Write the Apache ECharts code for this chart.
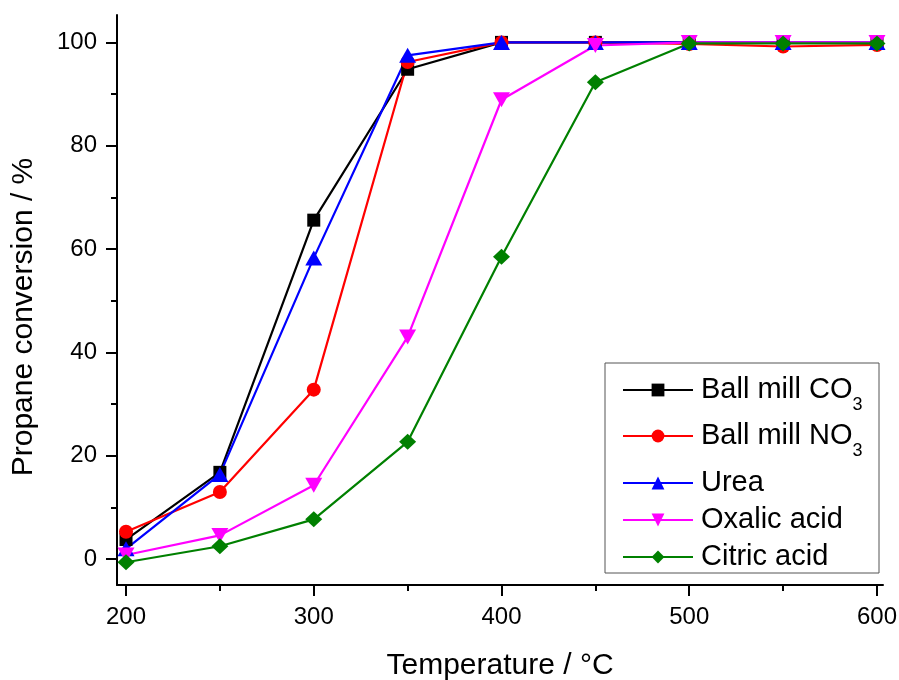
<!DOCTYPE html>
<html>
<head>
<meta charset="utf-8">
<script src="https://cdn.jsdelivr.net/npm/echarts@6/dist/echarts.min.js"></script>
<style>
  html, body { margin: 0; padding: 0; background: #ffffff; }
  #chart { width: 899px; height: 680px; }
</style>
</head>
<body>
<div id="chart"></div>
<script>
// Temperature points (°C)
const temperatures = [200, 250, 300, 350, 400, 450, 500, 550, 600];

// Propane conversion (%) per preparation route
const ballMillCO3 = [3.8, 16.8, 65.6, 94.8, 100, 100, 100, 100, 100];
const ballMillNO3 = [5.3, 13.0, 32.8, 96.2, 100, 100, 99.7, 99.2, 99.5];
const urea        = [2.0, 16.4, 58.3, 97.5, 100, 100, 100, 100, 100];
const oxalicAcid  = [0.8, 4.6, 14.3, 43.0, 88.9, 99.4, 100, 100, 100];
const citricAcid  = [-0.6, 2.5, 7.7, 22.7, 58.5, 92.3, 99.8, 99.8, 99.8];

// Axis ticks
const xMajorTicks = [200, 300, 400, 500, 600];
const xMinorTicks = [250, 350, 450, 550];
const yMajorTicks = [0, 20, 40, 60, 80, 100];
const yMinorTicks = [10, 30, 50, 70, 90];

const FONT = 'Liberation Sans, Arial, Helvetica, sans-serif';
const X_MIN = 195.2, X_MAX = 603.2;
const Y_MIN = -5, Y_MAX = 105.3;

const seriesDefs = [
  { name: 'Ball mill CO3', data: ballMillCO3, color: '#000000', symbol: 'rect', size: 13, rotate: 0 },
  { name: 'Ball mill NO3', data: ballMillNO3, color: '#ff0000', symbol: 'circle', size: 14, rotate: 0 },
  { name: 'Urea', data: urea, color: '#0000ff', symbol: 'triangle', size: [17, 15], rotate: 0 },
  { name: 'Oxalic acid', data: oxalicAcid, color: '#ff00ff', symbol: 'triangle', size: [17, 15], rotate: 180 },
  { name: 'Citric acid', data: citricAcid, color: '#008000', symbol: 'diamond', size: [17, 16], rotate: 0 }
];

// Legend label text with chemical subscripts
function legendText(name) {
  return name.replace(/O3$/, 'O{sub|3}');
}

// One legend entry per block so the rows can sit at their own heights
const legendRowTops = [366, 412, 468, 505, 542];
const legends = seriesDefs.map((s, i) => ({
  data: [s.name],
  left: 622,
  top: legendRowTops[i],
  orient: 'vertical',
  padding: 0,
  itemWidth: 70,
  itemHeight: 16,
  selectedMode: false,
  formatter: legendText,
  textStyle: {
    fontFamily: FONT,
    fontSize: 29,
    lineHeight: 30,
    color: '#000000',
    padding: [0, 0, 0, 3],
    rich: {
      sub: {
        fontFamily: FONT,
        fontSize: 18,
        height: 18,
        lineHeight: 48,
        padding: [30, 0, 0, 0],
        color: '#000000'
      }
    }
  }
}));

const axisLineStyle = { color: '#000000', width: 2 };

const option = {
  backgroundColor: '#ffffff',
  animation: false,
  grid: {
    left: 117, right: 16, top: 15, bottom: 95,
    containLabel: false,
    outerBoundsMode: 'none'
  },
  legend: legends,
  graphic: [{
    type: 'rect',
    z: 0,
    shape: { x: 605, y: 363, width: 274, height: 210 },
    style: { fill: '#ffffff', stroke: '#555555', lineWidth: 1 }
  }],
  xAxis: [{
    type: 'value',
    position: 'bottom',
    min: X_MIN, max: X_MAX,
    name: 'Temperature / °C',
    nameLocation: 'middle',
    nameGap: 66,
    nameTextStyle: { fontFamily: FONT, fontSize: 30, color: '#000000' },
    axisLine: { show: true, onZero: false, lineStyle: axisLineStyle },
    axisTick: { show: true, length: 11, lineStyle: axisLineStyle, customValues: xMajorTicks },
    axisLabel: { fontFamily: FONT, fontSize: 24, color: '#000000', margin: 20, customValues: xMajorTicks },
    splitLine: { show: false }
  }, {
    // minor ticks only
    type: 'value',
    position: 'bottom',
    min: X_MIN, max: X_MAX,
    axisLine: { show: false, onZero: false },
    axisTick: { show: true, length: 6, lineStyle: axisLineStyle, customValues: xMinorTicks },
    axisLabel: { show: false },
    splitLine: { show: false }
  }],
  yAxis: [{
    type: 'value',
    position: 'left',
    min: Y_MIN, max: Y_MAX,
    name: 'Propane conversion / %',
    nameLocation: 'middle',
    nameGap: 78,
    nameTextStyle: { fontFamily: FONT, fontSize: 30, color: '#000000', padding: [0, 34, 0, 0] },
    axisLine: { show: true, onZero: false, lineStyle: axisLineStyle },
    axisTick: { show: true, length: 11, lineStyle: axisLineStyle, customValues: yMajorTicks },
    axisLabel: { fontFamily: FONT, fontSize: 24, color: '#000000', margin: 20, customValues: yMajorTicks },
    splitLine: { show: false }
  }, {
    // minor ticks only
    type: 'value',
    position: 'left',
    min: Y_MIN, max: Y_MAX,
    axisLine: { show: false, onZero: false },
    axisTick: { show: true, length: 6, lineStyle: axisLineStyle, customValues: yMinorTicks },
    axisLabel: { show: false },
    splitLine: { show: false }
  }],
  series: seriesDefs.map(s => ({
    name: s.name,
    type: 'line',
    xAxisIndex: 0,
    yAxisIndex: 0,
    data: temperatures.map((t, i) => [t, s.data[i]]),
    symbol: s.symbol,
    symbolSize: s.size,
    symbolRotate: s.rotate,
    showAllSymbol: true,
    clip: false,
    lineStyle: { color: s.color, width: 2.2 },
    itemStyle: { color: s.color, borderWidth: 0 },
    emphasis: { disabled: true }
  }))
};

const chart = echarts.init(document.getElementById('chart'), null, { renderer: 'canvas' });
chart.setOption(option);
</script>
</body>
</html>
